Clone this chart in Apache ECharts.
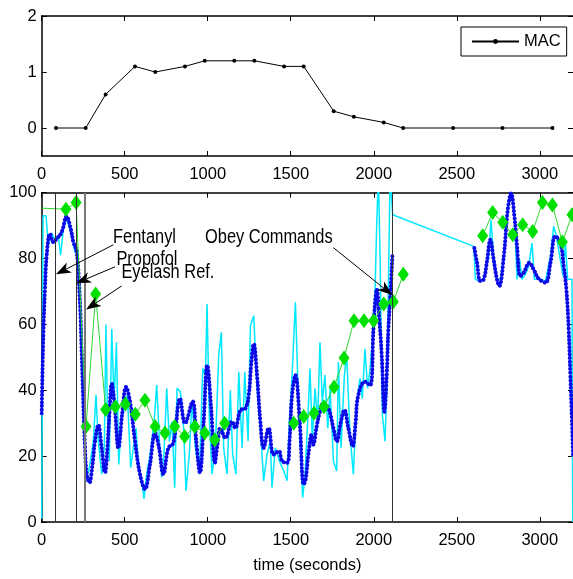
<!DOCTYPE html>
<html><head><meta charset="utf-8">
<script src="https://cdn.jsdelivr.net/npm/echarts@6/dist/echarts.min.js"></script>
<style>html,body{margin:0;padding:0;background:#fff}#c{width:573px;height:579px}</style>
</head><body><div id="c"></div>
<script>
// ---- top panel: MAC ----
const macTime = [86, 265, 385, 562, 684, 863, 982, 1160, 1281, 1460, 1578, 1759, 1880, 2060, 2177, 2478, 2775, 3076];
const macValue = [0, 0, 0.6, 1.1, 1.0, 1.1, 1.2, 1.2, 1.2, 1.1, 1.1, 0.3, 0.2, 0.1, 0, 0, 0, 0];

// ---- bottom panel: smoothed index (blue dots), null = gap ----
const smoothTime = [0,10,20,30,50,70,90,120,150,175,191,211,231,241,251,261,271,287,305,321,341,361,381,395,408,422,440,462,485,508,532,562,592,622,652,683,705,733,763,793,833,863,909,930,953,975,997,1020,1043,1060,1076,1106,1146,1166,1197,1227,1247,1262,1277,1297,1317,1337,1367,1397,1428,1448,1478,1493,1508,1528,1554,1578,1590,1606,1626,1636,1656,1676,1696,1727,1757,1777,1800,1823,1847,1873,1890,1907,1947,1978,1998,2008,2018,2032,2048,2064,2078,2088,2102,2112,2360,2606,2622,2642,2662,2682,2702,2722,2742,2756,2783,2807,2827,2847,2863,2883,2903,2937,2963,2993,3034,3064,3094,3124,3144,3160,3174,3184,3194,3200];
const smoothValue = [33,57,71,81,87.5,85,86,88,92.8,89,85,82,66,51,35.5,22.5,14.5,12,17,24.5,29.5,22.5,15,22,33,42,35,22.5,33,41,36.5,24.5,14.5,10,17.5,27,23,14.5,22.5,24,37.5,30,36.6,25,15,30,47.6,35,18,24,28.5,25.5,30.5,28.5,34,34.5,38.6,48,54.1,44.6,30.5,22.5,28.5,20.5,21.5,18.5,18,25,38.6,44.6,30.5,11.4,13,20.5,26.5,23.5,29,33.5,36,34.5,28.5,24.5,30,34,28.5,23,30,38.6,42.6,41.5,58.6,66.7,70.7,62.6,50.6,33.5,44.6,58.6,70.7,80.7,null,83.2,78.7,73.2,73.7,79.2,85.7,79.7,73.7,71.7,80.7,94.8,99.8,92.8,83.7,74.7,75.7,78.7,76.7,73.9,72.7,78.7,86.8,84.7,77.7,70.7,58.6,44.6,30.5,20];

// ---- bottom panel: raw index (cyan) ----
const rawTime = [0,8,26,40,60,80,100,114,130,150,181,201,215,227,241,251,261,271,287,311,327,341,361,377,387,397,407,422,436,450,464,480,496,516,536,552,568,582,602,616,632,653,677,693,709,723,737,753,769,785,801,815,835,855,869,889,905,926,950,970,986,996,1010,1026,1046,1066,1082,1096,1116,1136,1150,1170,1187,1207,1223,1243,1257,1277,1297,1317,1337,1357,1377,1387,1407,1432,1458,1478,1492,1508,1528,1544,1558,1572,1586,1602,1616,1630,1646,1662,1676,1690,1706,1723,1737,1757,1777,1787,1803,1823,1837,1857,1877,1897,1917,1931,1947,1963,1978,1992,2008,2018,2028,2038,2052,2068,2078,2088,2098,2108,2114,2602,2612,2632,2662,2692,2706,2722,2742,2763,2783,2807,2827,2847,2863,2879,2893,2913,2933,2953,2967,3003,3034,3064,3084,3100,3120,3140,3154,3168,3194,3198];
const rawValue = [1,93,93,84,87.7,85.7,87,81,88.8,92.3,86.7,81.7,83,71.7,50.6,30.5,20.5,13.5,16.5,24.5,38.6,24.5,14.5,22.5,60,30.5,18.5,58.6,36.5,54.6,17.5,30.5,34.5,38.6,16.5,22.5,28.5,17.5,12.5,7,14.5,20.5,30.5,41.6,24.5,13.5,21.5,40.6,24.5,30.5,10.4,40.6,39.6,28.5,9.4,20.5,36.5,22.5,14.5,46.6,44.6,66.2,30.5,14.5,22.5,50.6,57.6,22.5,14.5,40,20.5,14.5,45.6,22.5,45.6,24.5,59.6,62.6,40.6,28.5,12.5,20.5,24.5,10.4,22.5,18.5,15.5,12.5,30.5,44.6,66.7,40.6,22.5,7.4,14.5,30.5,46.6,24.5,40.6,30.5,54.6,36.5,44.6,28.5,40.6,18.5,15.5,48.6,22.5,44.6,50.6,26.5,14.5,36.5,43.6,37.5,52.6,40.6,46.6,55.6,70.7,90.8,105,80.7,32.5,24.5,40.6,70.7,105,105,93.3,83.7,73.7,73.2,73.7,80.7,91.8,80.7,73.7,73.7,80.7,94.8,100.8,92.8,73.7,79.7,73.7,75.2,77.7,84.7,73.7,73.7,73.2,80.7,89.8,86.8,80.7,74.7,84.7,73.7,73.7,0];

// ---- bottom panel: observer score (green diamonds), null = gap ----
const scoreTime = [0,146,207,267,325,385,444,504,564,622,683,743,801,861,922,982,1042,1102,1300,1518,1578,1640,1700,1761,1821,1881,1941,1999,2060,2118,2178,2400,2656,2716,2777,2837,2897,2957,3016,3076,3136,3194];
const scoreValue = [95.3,95,97,29,69.2,34.2,35,35.8,32.7,37,29,27,29,26,29,27,25,30,null,30,32,33,35,41,49.8,61.1,61.1,61.1,66.2,66.9,75.2,null,86.9,94,91,87.2,90.3,88.2,97,96.3,85,93.3];

// ---- events ----
const eventTime = [84, 207, 261, 2112];
const eventLabels = ['Fentanyl', 'Propofol', 'Eyelash Ref.', 'Obey Commands'];
const labelAnchor = [[430, 86.4], [450, 79.7], [480, 75.7], [984, 86.3]];
const arrowTail = [[432, 84.2], [442, 77.5], [482, 71.7], [1757, 83.3]];
const arrowTip = [[86, 75.2], [207, 72.5], [267, 64.5], [2112, 68.9]];

// ---- ticks ----
const xTicks = [0, 500, 1000, 1500, 2000, 2500, 3000];
const macTicks = [0, 1, 2];
const scoreTicks = [0, 20, 40, 60, 80, 100];

const FONT = '"Liberation Sans", Arial, sans-serif';
const zip = (a, b) => a.map((v, i) => [v, b[i] === null ? '-' : b[i]]);

const chart = echarts.init(document.getElementById('c'), null, {renderer: 'canvas'});

function xAx(grid, pos, labels, extra) {
  return Object.assign({
    gridIndex: grid, type: 'value', position: pos, min: 0, max: 3200,
    axisLine: {show: true, onZero: false, lineStyle: {color: '#000', width: 1.5}},
    axisTick: {show: true, inside: true, length: 5, customValues: xTicks, lineStyle: {color: '#000'}},
    axisLabel: {show: labels, customValues: xTicks, formatter: v => String(v), color: '#000', fontSize: 16.5, fontFamily: FONT, margin: 10},
    splitLine: {show: false}
  }, extra || {});
}
function yAx(grid, pos, labels, min, max, ticks) {
  return {
    gridIndex: grid, type: 'value', position: pos, min: min, max: max,
    axisLine: {show: pos === 'left', onZero: false, lineStyle: {color: '#000', width: 1.5}},
    axisTick: {show: true, inside: true, length: 5, customValues: ticks, lineStyle: {color: '#000'}},
    axisLabel: {show: labels, customValues: ticks, formatter: v => String(v), color: '#000', fontSize: 16.5, fontFamily: FONT, margin: 5},
    splitLine: {show: false}
  };
}

const option = {
  animation: false,
  backgroundColor: '#fff',
  grid: [
    {left: 41.7, top: 16, width: 532.3, height: 140},
    {left: 41.7, top: 192.7, width: 532.3, height: 332}
  ],
  legend: {
    data: ['MAC'], left: 461, top: 27, orient: 'vertical',
    borderColor: '#000', borderWidth: 1, backgroundColor: '#fff',
    padding: [6, 6, 6, 10], itemWidth: 47, itemHeight: 6, itemGap: 0,
    textStyle: {fontSize: 16.5, fontFamily: FONT, color: '#000'}
  },
  xAxis: [
    xAx(0, 'bottom', true),
    xAx(0, 'top', false),
    xAx(1, 'bottom', true, {name: 'time (seconds)', nameLocation: 'middle', nameGap: 35,
      nameTextStyle: {fontSize: 16.5, fontFamily: FONT, color: '#000'}}),
    xAx(1, 'top', false)
  ],
  yAxis: [
    yAx(0, 'left', true, -0.5, 2, macTicks),
    yAx(0, 'right', false, -0.5, 2, macTicks),
    yAx(1, 'left', true, 0, 100, scoreTicks),
    yAx(1, 'right', false, 0, 100, scoreTicks)
  ],
  series: [
    {
      name: 'MAC', type: 'line', xAxisIndex: 0, yAxisIndex: 0,
      data: zip(macTime, macValue), color: '#000',
      lineStyle: {color: '#000', width: 1}, symbol: 'circle', symbolSize: 4,
      itemStyle: {color: '#000'}
    },
    {
      name: 'raw', type: 'line', xAxisIndex: 2, yAxisIndex: 2,
      data: zip(rawTime, rawValue), showSymbol: false, smooth: false,
      lineStyle: {color: '#00e8ff', width: 1.5}, z: 2
    },
    {
      name: 'smoothed', type: 'line', xAxisIndex: 2, yAxisIndex: 2,
      data: zip(smoothTime, smoothValue), showSymbol: false, smooth: 0.4,
      lineStyle: {color: '#0a0ae6', width: 4, type: [0.1, 3.6], cap: 'round'}, z: 3
    },
    {
      name: 'score', type: 'line', xAxisIndex: 2, yAxisIndex: 2,
      data: zip(scoreTime, scoreValue).map((d, i) => i === 0 ? {value: d, symbol: 'none'} : d),
      symbol: 'diamond', symbolSize: [11, 15], showAllSymbol: true,
      itemStyle: {color: '#00e000'}, lineStyle: {color: '#2ed62e', width: 1}, z: 4,
      markLine: {
        silent: true, symbol: ['none', 'none'], label: {show: false},
        data: eventTime.map((t, i) => ({xAxis: t, lineStyle: i === 2 ? {color: '#777', width: 2, type: 'solid'} : {color: '#333', width: 1, type: 'solid'}})),
        z: 5
      }
    }
  ]
};
chart.setOption(option);

// annotations (positions converted from data coordinates by the chart)
const g = [];
for (let i = 0; i < eventLabels.length; i++) {
  const p = chart.convertToPixel({gridIndex: 1}, labelAnchor[i]);
  g.push({type: 'text', z: 100, x: p[0], y: p[1], scaleX: 0.82,
    style: {text: eventLabels[i], x: 0, y: 0, fontSize: 20, fontFamily: FONT, fill: '#000', verticalAlign: 'middle', align: 'left'}});
  const a = chart.convertToPixel({gridIndex: 1}, arrowTail[i]);
  const b = chart.convertToPixel({gridIndex: 1}, arrowTip[i]);
  const dx = b[0] - a[0], dy = b[1] - a[1], len = Math.hypot(dx, dy);
  const ux = dx / len, uy = dy / len, nx = -uy, ny = ux;
  const L = 15, W = 5.5, N = 4;
  const base = [b[0] - ux * (L - N), b[1] - uy * (L - N)];
  g.push({type: 'line', z: 100, shape: {x1: a[0], y1: a[1], x2: base[0], y2: base[1]}, style: {stroke: '#000', lineWidth: 1}});
  g.push({type: 'polygon', z: 100, shape: {points: [
    [b[0], b[1]],
    [b[0] - ux * L + nx * W, b[1] - uy * L + ny * W],
    base,
    [b[0] - ux * L - nx * W, b[1] - uy * L - ny * W]
  ]}, style: {fill: '#000'}});
}
chart.setOption({graphic: g});
</script>
</body></html>
